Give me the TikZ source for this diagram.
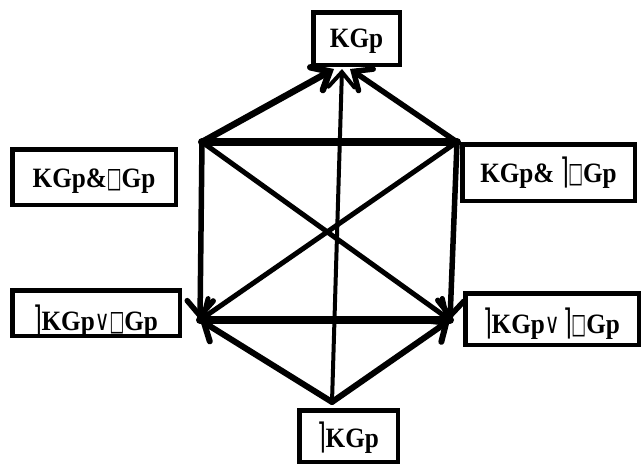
\documentclass[tikz,border=0pt]{standalone}
\usepackage{fontspec}
\setmainfont{Liberation Serif}
\newfontfamily\symf{DejaVu Sans}
\usetikzlibrary{arrows.meta}
\newcommand\ngx{{\symf\fontseries{m}\selectfont\kern-0.03em\raisebox{-0.06em}{\scalebox{0.9}[1.25]{⌉}}\kern-0.02em}}
\newcommand\tofu{{\symf\fontseries{m}\selectfont\scalebox{0.62}[1.0]{□}}}
\newcommand\velx{{\symf\fontseries{m}\selectfont\scalebox{0.8}[1]{∨}}}
\newcommand\bl[2]{\raisebox{-#1}[0pt][0pt]{\scalebox{0.9}[1]{#2}}}
\begin{document}
\begin{tikzpicture}[x=1pt,y=-1pt,
  box/.style={draw, line width=4.5pt, inner sep=0pt,
    font=\fontsize{28}{32}\selectfont\bfseries},
  ln/.style={line width=#1, line cap=round, line join=round},
  arr/.style={-{Straight Barb[length=15pt,width=26pt,line cap=round]}}]
\useasboundingbox (0,0) rectangle (644,466);
\fill[white] (0,0) rectangle (644,466);

% boxes
\node[box, minimum width=86.5pt, minimum height=52.5pt] (top) at (356.5,38.5) {\bl{9pt}{KGp}};
\node[box, minimum width=163.5pt, minimum height=55.5pt] (lu) at (94,177) {\bl{10pt}{KGp\&\tofu Gp}};
\node[box, minimum width=172.5pt, minimum height=56.5pt] (ru) at (548.5,172.5) {\bl{9.5pt}{KGp\& \ngx\tofu Gp}};
\node[box, minimum width=167.5pt, minimum height=45.5pt] (ll) at (96,313) {\bl{17pt}{\ngx KGp\velx\tofu Gp}};
\node[box, minimum width=173.5pt, minimum height=51.5pt] (rl) at (552,319) {\bl{14pt}{\ngx KGp\velx\,\ngx\tofu Gp}};
\node[box, minimum width=98.5pt, minimum height=51.5pt] (bot) at (348.5,436) {\bl{11pt}{\ngx KGp}};

% vertices
\coordinate (A) at (202,142);
\coordinate (B) at (457,142);
\coordinate (C) at (200,320);
\coordinate (D) at (450,320);
\coordinate (E) at (332,402);
\coordinate (ta) at (334,69);
\coordinate (te) at (342,69);
\coordinate (tb) at (350,69);

% connectors
\draw[ln=8pt] (A) -- (B);
\draw[ln=8pt] (C) -- (D);
\draw[ln=6.5pt, arr] (A) -- (ta);
\draw[ln=5.5pt, arr] (B) -- (tb);
\draw[ln=4pt, arr] (E) -- (te);
\draw[ln=5.5pt, arr] (A) -- (C);
\draw[ln=5.5pt, arr] (B) -- (D);
\draw[ln=5pt, arr] (A) -- (D);
\draw[ln=5pt, arr] (B) -- (C);
\draw[ln=6pt, arr] (E) -- (C);
\draw[ln=6pt, arr] (E) -- (D);
\end{tikzpicture}
\end{document}
